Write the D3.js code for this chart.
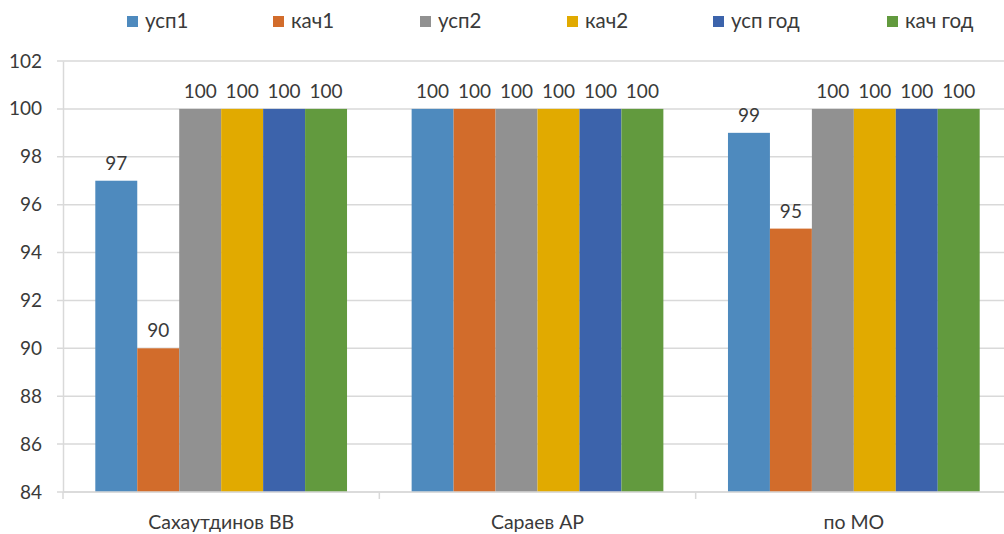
<!DOCTYPE html>
<html lang="ru">
<head>
  <meta charset="UTF-8">
  <title>усп / кач</title>
  <script src="https://d3js.org/d3.v7.min.js"></script>
  <style>
    body { margin: 0; background: #fff; font-family: Lato, "Open Sans", sans-serif; }
    text { fill: #3a3a3a; }
  </style>
</head>
<body>
  <svg id="chart" width="1004" height="534"></svg>
  <script>
    // data
    const categories = ['Сахаутдинов ВВ', 'Сараев АР', 'по МО'];
    const seriesNames = ['усп1', 'кач1', 'усп2', 'кач2', 'усп год', 'кач год'];
    const usp1   = [97, 100, 99];
    const kach1  = [90, 100, 95];
    const usp2   = [100, 100, 100];
    const kach2  = [100, 100, 100];
    const uspGod = [100, 100, 100];
    const kachGod = [100, 100, 100];
    const yTicks = [84, 86, 88, 90, 92, 94, 96, 98, 100, 102];

    const values = [usp1, kach1, usp2, kach2, uspGod, kachGod];
    const colors = ['#4e8abe', '#d26c2b', '#919191', '#e1aa00', '#3c63ab', '#629a3e'];

    const svg = d3.select('#chart');
    const mLeft = 63, mRight = 1012, mTop = 61, mBottom = 492;

    const x0 = d3.scaleBand().domain(categories).range([mLeft, mRight]).paddingInner(0).paddingOuter(0);
    const x1 = d3.scaleBand().domain(seriesNames).range([0, x0.bandwidth()]).paddingInner(0).paddingOuter(0.77);
    const y = d3.scaleLinear().domain([84, 102]).range([mBottom, mTop]);

    // gridlines
    svg.append('g').selectAll('line')
      .data(yTicks)
      .enter().append('line')
      .attr('x1', mLeft - 6).attr('x2', mRight)
      .attr('y1', d => y(d)).attr('y2', d => y(d))
      .attr('stroke', '#d9d9d9').attr('stroke-width', 1.5);

    // y axis
    const yAxis = svg.append('g')
      .attr('transform', `translate(${mLeft},0)`)
      .call(d3.axisLeft(y).tickValues(yTicks).tickSize(0).tickPadding(21));
    yAxis.select('.domain').attr('stroke', '#d9d9d9').attr('stroke-width', 1.5);
    yAxis.selectAll('text').attr('font-size', 19).attr('font-family', 'Lato, sans-serif').style('fill', '#3a3a3a');

    // bars
    const groups = svg.append('g').selectAll('g')
      .data(categories)
      .enter().append('g')
      .attr('transform', d => `translate(${x0(d)},0)`);

    groups.selectAll('rect')
      .data((c, ci) => seriesNames.map((s, si) => ({ s, si, v: values[si][ci] })))
      .enter().append('rect')
      .attr('x', d => x1(d.s))
      .attr('width', x1.bandwidth())
      .attr('y', d => y(d.v))
      .attr('height', d => y(84) - y(d.v))
      .attr('fill', d => colors[d.si]);

    groups.selectAll('text.lbl')
      .data((c, ci) => seriesNames.map((s, si) => ({ s, si, v: values[si][ci] })))
      .enter().append('text')
      .attr('class', 'lbl')
      .attr('x', d => x1(d.s) + x1.bandwidth() / 2)
      .attr('y', d => y(d.v) - 11)
      .attr('text-anchor', 'middle')
      .attr('font-size', 19)
      .text(d => d.v);

    // x axis
    const xAxis = svg.append('g')
      .attr('transform', `translate(0,${mBottom})`);
    xAxis.append('line')
      .attr('x1', mLeft).attr('x2', mRight)
      .attr('stroke', '#d9d9d9').attr('stroke-width', 1.5);
    xAxis.selectAll('line.tick')
      .data(categories.concat(['end']))
      .enter().append('line')
      .attr('class', 'tick')
      .attr('x1', (d, i) => mLeft + i * x0.bandwidth())
      .attr('x2', (d, i) => mLeft + i * x0.bandwidth())
      .attr('y1', 0).attr('y2', 7)
      .attr('stroke', '#d9d9d9').attr('stroke-width', 1.5);
    xAxis.selectAll('text')
      .data(categories)
      .enter().append('text')
      .attr('x', d => x0(d) + x0.bandwidth() / 2)
      .attr('y', 37)
      .attr('text-anchor', 'middle')
      .attr('font-size', 19.5)
      .text(d => d);

    // legend
    const legendX = [127, 273, 420, 567, 713, 887];
    const legend = svg.append('g').selectAll('g')
      .data(seriesNames)
      .enter().append('g')
      .attr('transform', (d, i) => `translate(${legendX[i]},16)`);
    legend.append('rect')
      .attr('width', 11).attr('height', 11)
      .attr('fill', (d, i) => colors[i]);
    legend.append('text')
      .attr('x', 18).attr('y', 12)
      .attr('font-size', 20.5)
      .text(d => d);
  </script>
</body>
</html>
